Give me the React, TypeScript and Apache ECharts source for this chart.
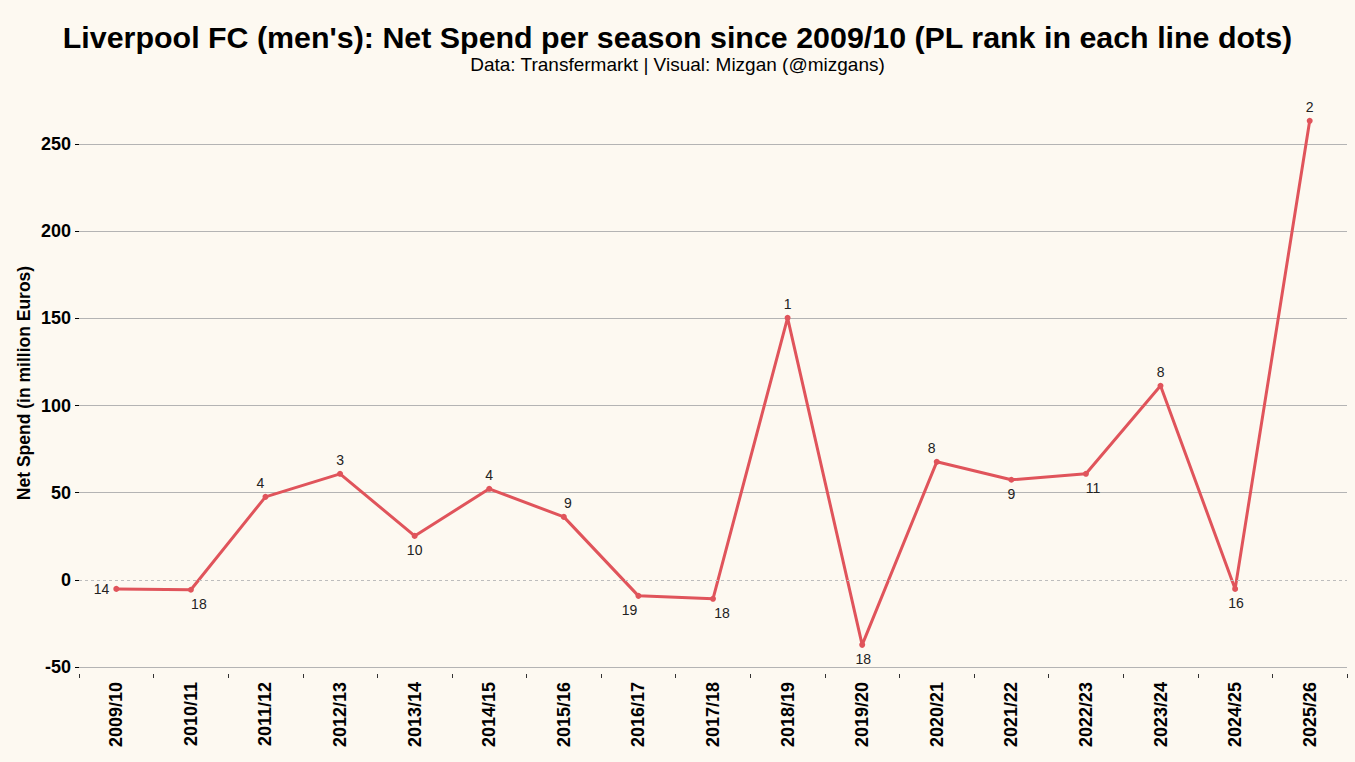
import { useEffect, useRef } from 'react';
import * as echarts from 'echarts';

const seasons = [
  '2009/10', '2010/11', '2011/12', '2012/13', '2013/14', '2014/15', '2015/16', '2016/17', '2017/18',
  '2018/19', '2019/20', '2020/21', '2021/22', '2022/23', '2023/24', '2024/25', '2025/26',
];
// net spend in million euros
const netSpend = [-5.2, -5.7, 47.6, 60.8, 25.2, 52.2, 36.1, -9.2, -10.9, 150.3, -37.3, 67.7, 57.4, 60.8, 111.3, -5.2, 263.3];
// final Premier League position
const plRank = [14, 18, 4, 3, 10, 4, 9, 19, 18, 1, 18, 8, 9, 11, 8, 16, 2];

// where each rank label sits relative to its dot
const labelPlace: [string, number][] = [
  ['left', 0], ['bottom', 8], ['top', -5], ['top', 0], ['bottom', 0], ['top', 0], ['top', 4], ['bottom', -9], ['bottom', 9],
  ['top', 0], ['bottom', 1], ['top', -5], ['bottom', 0], ['bottom', 7], ['top', 0], ['bottom', 1], ['top', 0],
];

const FONT = '"Liberation Sans", Arial, sans-serif';
const LINE = '#E0545B';
const GRID = '#B4B4B4';

export default function App() {
  const chartRef = useRef<HTMLDivElement>(null);

  useEffect(() => {
    document.body.style.margin = '0';
    if (!chartRef.current) return;
    const chart = echarts.init(chartRef.current, null, { renderer: 'svg' });

    const option = {
      animation: false,
      backgroundColor: '#FDF9F1',
      textStyle: { fontFamily: FONT },
      title: {
        text: "Liverpool FC (men's): Net Spend per season since 2009/10 (PL rank in each line dots)",
        subtext: 'Data: Transfermarkt | Visual: Mizgan (@mizgans)',
        left: 'center',
        top: 17,
        itemGap: 3,
        textStyle: { fontSize: 30.4, fontWeight: 'bold', color: '#000', fontFamily: FONT },
        subtextStyle: { fontSize: 19, color: '#000', fontFamily: FONT },
      },
      graphic: [
        {
          type: 'text',
          x: 24,
          y: 383,
          rotation: Math.PI / 2,
          style: {
            text: 'Net Spend (in million Euros)',
            font: `bold 17.5px ${FONT}`,
            fill: '#000',
            textAlign: 'center',
            textVerticalAlign: 'middle',
          },
        },
      ],
      grid: { left: 79, right: 8, top: 144, bottom: 95 },
      xAxis: {
        type: 'category',
        data: seasons,
        boundaryGap: true,
        offset: 7,
        axisLine: { show: false, onZero: false },
        axisTick: { show: true, length: 4, lineStyle: { color: '#333' } },
        axisLabel: {
          rotate: 90,
          margin: 8,
          fontSize: 18,
          fontWeight: 'bold',
          color: '#000',
          fontFamily: FONT,
        },
        splitLine: { show: false },
      },
      yAxis: {
        type: 'value',
        min: -50,
        max: 250,
        interval: 50,
        axisLine: { show: false },
        axisTick: { show: true, length: 4, lineStyle: { color: '#000' } },
        axisLabel: { fontSize: 18, fontWeight: 'bold', color: '#000', margin: 8, fontFamily: FONT },
        splitLine: {
          show: true,
          // the zero line is drawn dashed by the markLine below
          lineStyle: { color: [GRID, 'rgba(0,0,0,0)', GRID, GRID, GRID, GRID, GRID], width: 1 },
        },
      },
      series: [
        {
          type: 'line',
          data: netSpend.map((v, i) => ({
            value: v,
            label: {
              show: true,
              formatter: String(plRank[i]),
              position: labelPlace[i][0],
              offset: [labelPlace[i][1], 0],
              distance: 4,
            },
          })),
          clip: false,
          symbol: 'circle',
          symbolSize: 6,
          lineStyle: { color: LINE, width: 3 },
          itemStyle: { color: LINE },
          label: { fontSize: 14, color: '#222', fontFamily: FONT },
          markLine: {
            silent: true,
            symbol: 'none',
            label: { show: false },
            lineStyle: { color: '#BDBDBD', type: [3, 3], width: 1 },
            data: [{ yAxis: 0 }],
          },
          z: 3,
        },
      ],
    };

    chart.setOption(option);
    const onResize = () => chart.resize();
    window.addEventListener('resize', onResize);
    return () => {
      window.removeEventListener('resize', onResize);
      chart.dispose();
    };
  }, []);

  return <div ref={chartRef} style={{ width: '100vw', height: '100vh' }} />;
}
